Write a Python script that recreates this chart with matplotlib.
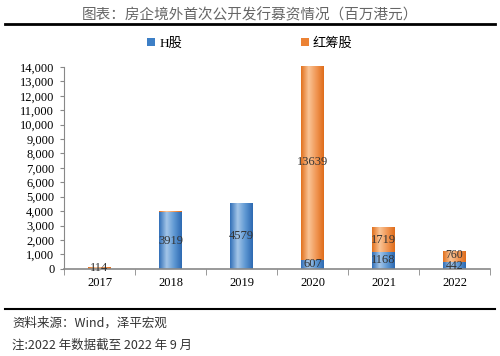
import numpy as np
import matplotlib.pyplot as plt
from matplotlib.colors import LinearSegmentedColormap

plt.rcParams['font.family'] = ['Liberation Serif', 'Noto Sans CJK SC']

years = ['2017', '2018', '2019', '2020', '2021', '2022']
h_shares = [0, 3919, 4579, 607, 1168, 442]
red_chip = [114, 80, 0, 13639, 1719, 760]
yticks = [0, 1000, 2000, 3000, 4000, 5000, 6000, 7000, 8000, 9000, 10000, 11000, 12000, 13000, 14000]
ymax = 14000

fig = plt.figure(figsize=(5, 3.56), dpi=100)
ax = fig.add_axes([0.128, 0.245, 0.852, 0.567])

x = np.arange(len(years))
w = 0.31
b1 = ax.bar(x, h_shares, w, color='#3d7fc6', label='H股')
b2 = ax.bar(x, red_chip, w, bottom=h_shares, color='#ec8234', label='红筹股')

# cylinder shading
cm_blue = LinearSegmentedColormap.from_list('b', ['#3270b8', '#a3c5e8', '#5f98d3', '#2d6ab2'])
cm_orange = LinearSegmentedColormap.from_list('o', ['#e2721f', '#f9c496', '#f19755', '#df6d1b'])
grad = np.linspace(0, 1, 64).reshape(1, -1)
for bars, cm in [(b1, cm_blue), (b2, cm_orange)]:
    for p in bars:
        if p.get_height() <= 0:
            continue
        x0, y0 = p.get_x(), p.get_y()
        top = min(y0 + p.get_height(), ymax)
        im = ax.imshow(grad, extent=[x0, x0 + p.get_width(), y0, top],
                       aspect='auto', cmap=cm, zorder=p.get_zorder())
        im.set_clip_path(p)

for i in range(len(years)):
    small = i == 5
    fs = 8.5 if small else 9
    if h_shares[i] > 0:
        ax.text(x[i], h_shares[i] / 2 - (60 if small else 0), str(h_shares[i]), ha='center',
                va='center', fontsize=fs, color='#333333')
    if red_chip[i] >= 100:
        ax.text(x[i], h_shares[i] + red_chip[i] / 2 + (110 if small else 0), str(red_chip[i]),
                ha='center', va='center', fontsize=fs, color='#333333')

ax.set_ylim(0, ymax)
ax.set_yticks(yticks)
ax.set_yticklabels([f'{v:,}' for v in yticks])
ax.set_xticks(x)
ax.set_xticklabels(years)
ax.set_xticks(np.arange(-0.5, len(years), 1), minor=True)
ax.tick_params(axis='x', which='major', length=0, labelsize=9, pad=6)
ax.tick_params(axis='x', which='minor', length=4, color='#888888', direction='out')
ax.tick_params(axis='y', labelsize=9, length=3, color='#888888', pad=4)
ax.set_xlim(-0.5, len(years) - 0.5)
for s in ['top', 'right']:
    ax.spines[s].set_visible(False)
ax.spines['left'].set_color('#888888')
ax.spines['bottom'].set_color('#888888')
ax.spines['bottom'].set_linewidth(1.2)

fig.legend(loc='center', bbox_to_anchor=(0.5, 0.878), ncol=2, frameon=False,
           handlelength=0.6, handleheight=0.6, columnspacing=9, handletextpad=0.3,
           prop={'family': ['Liberation Serif', 'Noto Sans CJK SC'], 'size': 9.5})

fig.text(0.5, 0.958, '图表：房企境外首次公开发行募资情况（百万港元）', ha='center', va='center',
         fontsize=10.5, color='#666666', family=['Noto Sans CJK SC'])
fig.add_artist(plt.Line2D([0.01, 0.99], [0.933, 0.933], color='black', lw=2))
fig.add_artist(plt.Line2D([0.01, 0.99], [0.132, 0.132], color='black', lw=1.5))
fig.text(0.024, 0.091, '资料来源：Wind，泽平宏观', ha='left', va='center', fontsize=9,
         style='italic', color='#333333', family=['Noto Sans CJK SC'])
fig.text(0.024, 0.031, '注:2022 年数据截至 2022 年 9 月', ha='left', va='center', fontsize=9,
         style='italic', color='#333333', family=['Noto Sans CJK SC'])

fig.savefig('out.png', dpi=100)
